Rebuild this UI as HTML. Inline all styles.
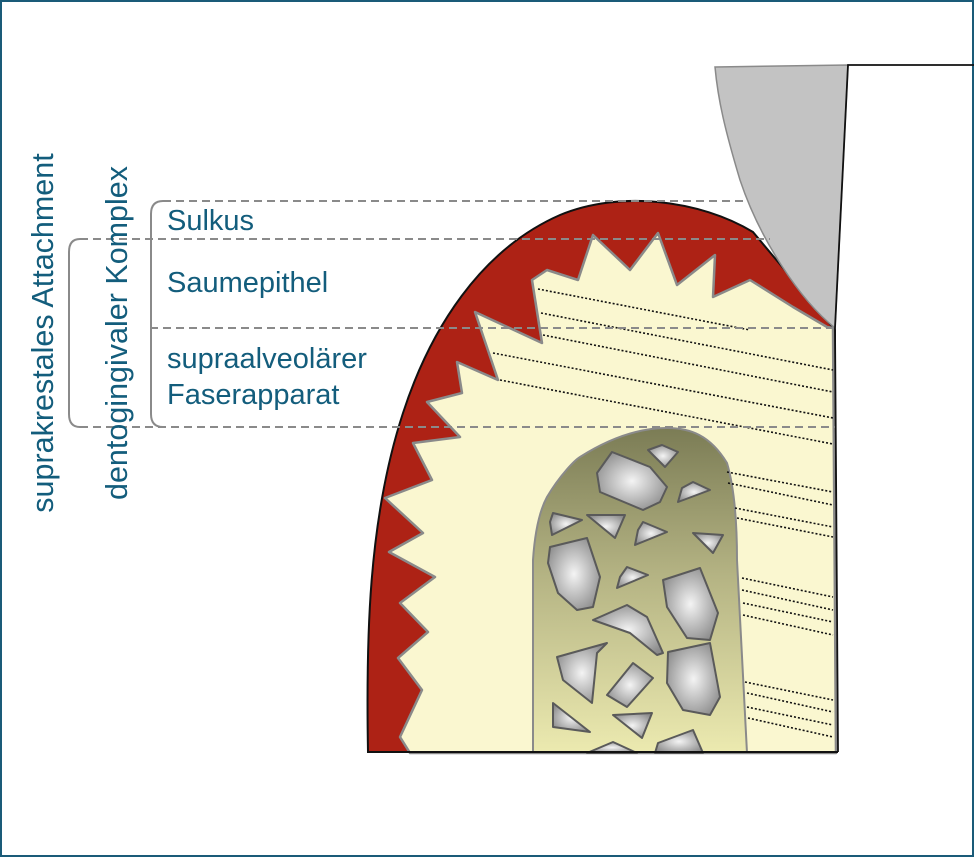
<!DOCTYPE html>
<html><head><meta charset="utf-8"><style>
html,body{margin:0;padding:0;background:#fff}
svg{display:block}
text{font-family:"Liberation Sans",sans-serif;fill:#135d7c}
</style></head><body>
<svg width="974" height="857" viewBox="0 0 974 857" xmlns="http://www.w3.org/2000/svg">
<defs>
<linearGradient id="bone" x1="0" y1="0" x2="0" y2="1">
<stop offset="0" stop-color="#7b7c55"/><stop offset="0.45" stop-color="#b4b383"/><stop offset="1" stop-color="#eceab0"/>
</linearGradient>
<radialGradient id="rock" cx="0.5" cy="0.5" r="0.6">
<stop offset="0" stop-color="#f4f4f4"/><stop offset="1" stop-color="#8a8a8a"/>
</radialGradient>
</defs>
<rect x="1" y="1" width="972" height="855" fill="#fff" stroke="#1a5b78" stroke-width="2"/>

<path d="M368,752 C366,640 368,520 403,413 C430,330 480,250 560,215 C620,190 700,200 753,232 L835,330 L835,752 Z" fill="#ad2215" stroke="#111" stroke-width="2"/>
<path d="M833,328 L827,327 L793,307 L750,280 L713,297 L715,255 L677,285 L658,233 L630,270 L593,235 L578,280 L547,270 L532,280 L542,343 L475,312 L498,380 L457,362 L462,393 L427,402 L460,437 L413,443 L432,480 L385,498 L423,533 L389,552 L435,577 L400,603 L428,632 L398,658 L422,690 L400,737 L410,753 L836,753 Z" fill="#faf7d0" stroke="#8a8a8a" stroke-width="2.5" stroke-linejoin="round"/>
<path d="M715,67 L848,65 L835,328 C800,300 760,240 740,180 C725,130 718,100 715,67 Z" fill="#c3c3c3" stroke="#8a8a8a" stroke-width="1.5"/>
<path d="M974,65 L848,65 L835,328 L838,752" fill="none" stroke="#111" stroke-width="1.8"/>

<path d="M533,753 L533,560 C535,530 540,510 547,497 C560,475 575,460 580,457 C610,438 640,428 667,428 C690,428 710,435 727,463 C735,490 737,530 737,560 L747,753 Z" fill="url(#bone)" stroke="#8a8a8a" stroke-width="2"/>
<g fill="url(#rock)" stroke="#5a5a5a" stroke-width="2" stroke-linejoin="round">
<polygon points="662,445 678,452 665,467 648,450"/>
<polygon points="612,452 650,467 667,487 660,502 643,510 600,492 597,473"/>
<polygon points="693,482 710,490 678,502 682,488"/>
<polygon points="553,513 582,520 552,535 550,522"/>
<polygon points="587,515 625,515 615,538"/>
<polygon points="643,522 667,532 635,545 638,530"/>
<polygon points="693,533 723,535 713,553"/>
<polygon points="550,547 587,538 600,577 593,607 577,610 558,593 548,563"/>
<polygon points="627,567 648,575 617,588 620,577"/>
<polygon points="663,580 700,568 718,613 710,640 687,638 667,607"/>
<polygon points="593,620 627,605 647,617 663,653 657,655 630,633"/>
<polygon points="557,657 607,643 597,653 592,703 563,680"/>
<polygon points="633,663 653,678 627,707 607,695"/>
<polygon points="668,652 710,643 720,697 710,715 683,710 667,683"/>
<polygon points="553,703 590,732 553,727"/>
<polygon points="613,715 652,713 642,738"/>
<polygon points="587,753 613,742 637,753"/>
<polygon points="655,753 658,743 693,730 703,753"/>
</g>
<line x1="368" y1="752" x2="838" y2="752" stroke="#111" stroke-width="2"/>

<g stroke="#111" stroke-width="1.6" stroke-dasharray="2,2">
<line x1="538" y1="289" x2="750" y2="330"/>
<line x1="541" y1="313" x2="833" y2="370"/>
<line x1="543" y1="335" x2="833" y2="392"/>
<line x1="493" y1="353" x2="833" y2="418"/>
<line x1="500" y1="380" x2="833" y2="444"/>
<line x1="727" y1="472" x2="833" y2="492"/>
<line x1="728" y1="483" x2="833" y2="505"/>
<line x1="735" y1="508" x2="833" y2="527"/>
<line x1="737" y1="518" x2="833" y2="537"/>
<line x1="742" y1="578" x2="833" y2="597"/>
<line x1="742" y1="590" x2="833" y2="610"/>
<line x1="743" y1="603" x2="833" y2="622"/>
<line x1="743" y1="615" x2="833" y2="635"/>
<line x1="745" y1="682" x2="833" y2="700"/>
<line x1="747" y1="693" x2="833" y2="712"/>
<line x1="747" y1="707" x2="833" y2="725"/>
<line x1="748" y1="718" x2="833" y2="737"/>
</g>

<g stroke="#8a8a8a" stroke-width="2" stroke-dasharray="8,5" fill="none">
<line x1="163" y1="201" x2="748" y2="201"/>
<line x1="80" y1="239" x2="770" y2="239"/>
<line x1="150" y1="328" x2="835" y2="328"/>
<line x1="80" y1="427" x2="835" y2="427"/>
</g>
<g stroke="#8a8a8a" stroke-width="2" fill="none">
<path d="M80,239 Q69,239 69,252 L69,414 Q69,427 80,427"/>
<path d="M163,201 Q151,201 151,214 L151,414 Q151,427 163,427"/>
</g>

<text x="167" y="230" font-size="29">Sulkus</text>
<text x="167" y="292" font-size="29">Saumepithel</text>
<text x="167" y="368" font-size="29">supraalveolärer</text>
<text x="167" y="404" font-size="29">Faserapparat</text>
<text transform="translate(53,333) rotate(-90)" text-anchor="middle" font-size="30.5">suprakrestales Attachment</text>
<text transform="translate(127,333) rotate(-90)" text-anchor="middle" font-size="30.5">dentogingivaler Komplex</text>
</svg>
</body></html>
